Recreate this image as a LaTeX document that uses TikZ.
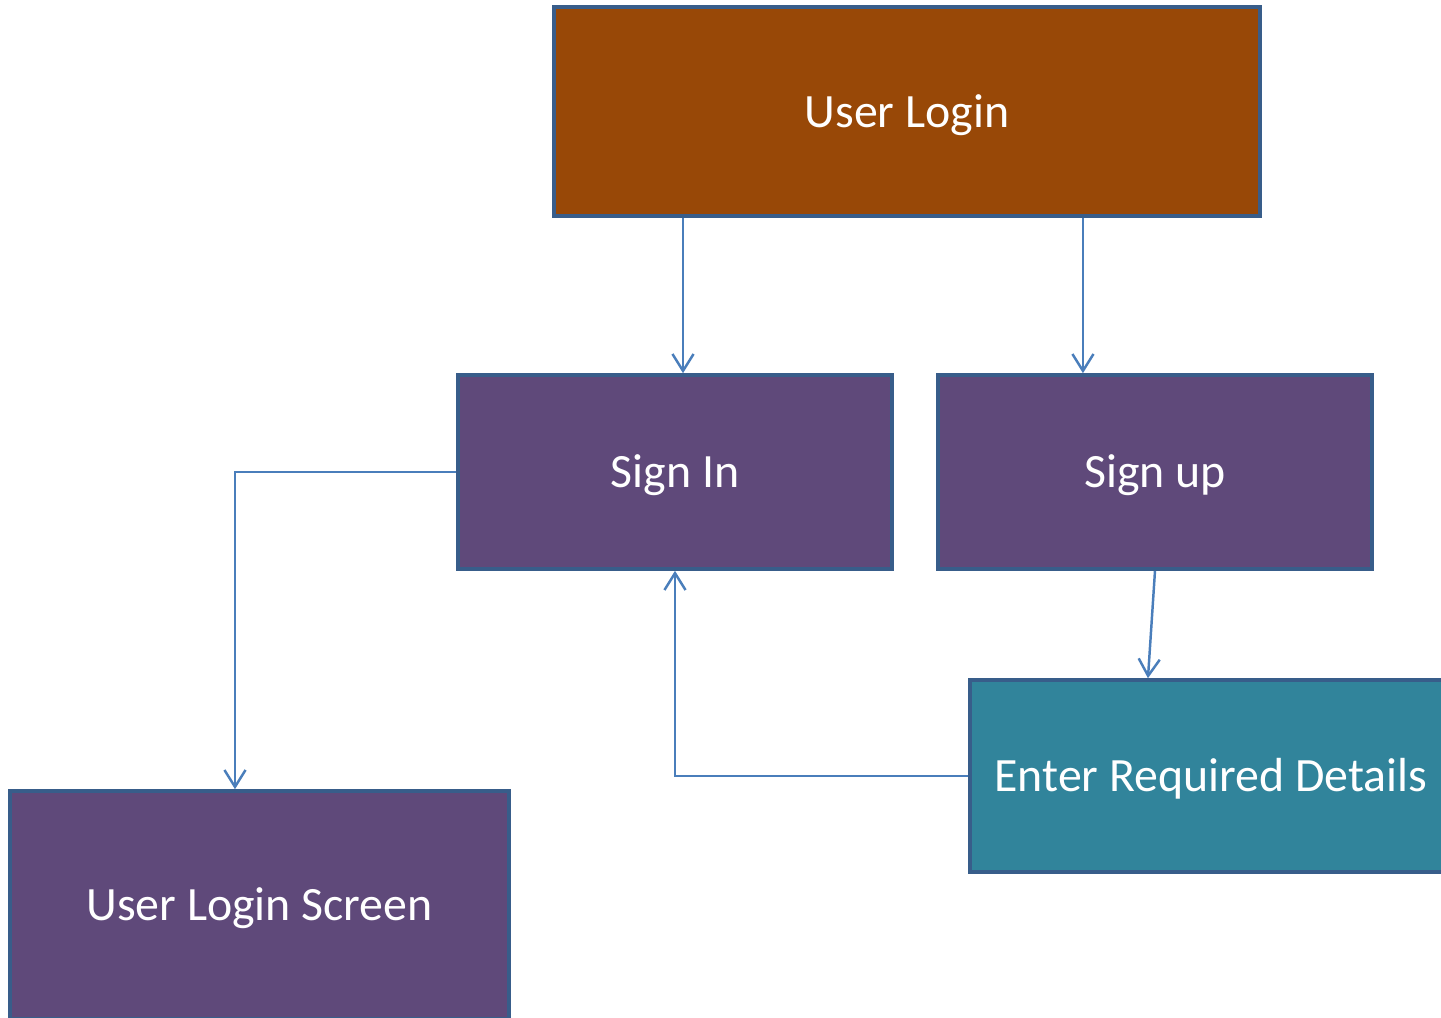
\documentclass[tikz,border=0pt]{standalone}
\usepackage{fontspec}
\setmainfont{Carlito}
\usetikzlibrary{arrows.meta, calc}
\definecolor{loginbrown}{HTML}{984807}
\definecolor{stepviolet}{HTML}{5F497A}
\definecolor{detailteal}{HTML}{31849B}
\definecolor{boxrim}{HTML}{385D8A}
\definecolor{linkblue}{HTML}{4A7EBB}
\tikzset{
    box/.style = {draw=boxrim, line width=1pt, text=white,
        font=\fontsize{13.6}{16}\selectfont, inner sep=0pt,
        text height=1.9ex, text depth=0pt},
    link/.style = {draw=linkblue, line width=0.7pt,
        -{Straight Barb[length=4.8pt,width=6pt]}},
}

\begin{document}
\begin{tikzpicture}[x=0.01cm, y=-0.01cm]
\clip (0,0) rectangle (1441,1017);

\node[box, fill=loginbrown, minimum width=7.06cm, minimum height=2.09cm] (login) at (907,111.5) {User Login};
\node[box, fill=stepviolet, minimum width=4.34cm, minimum height=1.94cm] (signin) at (675,472) {Sign In};
\node[box, fill=stepviolet, minimum width=4.34cm, minimum height=1.94cm] (signup) at (1155,472) {Sign up};
\node[box, fill=detailteal, minimum width=4.82cm, minimum height=1.92cm] (details) at (1211,776) {Enter Required Details};
\node[box, fill=stepviolet, minimum width=4.99cm, minimum height=2.28cm] (screen) at (259.5,905) {User Login Screen};

% login choices
\draw[link] ([xshift=0.08cm]signin.north |- login.south) -- ([xshift=0.08cm]signin.north);
\draw[link] ([xshift=-0.72cm]signup.north |- login.south) -- ([xshift=-0.72cm]signup.north);

% sign in leads to the screen
\draw[link] (signin.west) -| ([xshift=-0.245cm]screen.north);

% sign up, details, back to sign in
\draw[link] (signup.south) -- ([xshift=-0.63cm]details.north);
\draw[link] (details.west) -| (signin.south);
\end{tikzpicture}
\end{document}
